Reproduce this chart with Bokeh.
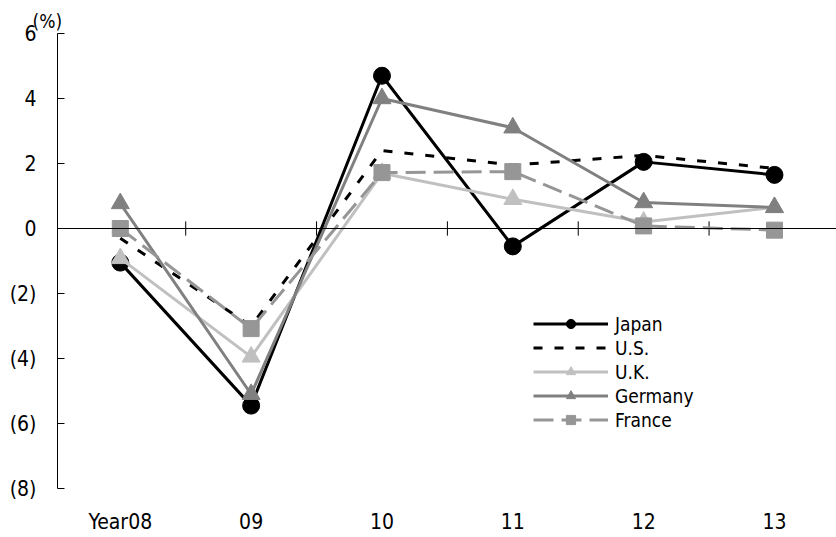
from bokeh.plotting import figure
from bokeh.models import Range1d, FixedTicker, Span, Legend, LegendItem, Title
from bokeh.embed import file_html
from bokeh.resources import INLINE

# ---- data ----
years = ["Year08", "09", "10", "11", "12", "13"]
japan = [-1.05, -5.45, 4.7, -0.55, 2.05, 1.65]
us = [-0.3, -3.0, 2.4, 1.95, 2.25, 1.85]
uk = [-0.92, -3.95, 1.7, 0.9, 0.2, 0.65]
germany = [0.77, -5.1, 4.0, 3.1, 0.8, 0.65]
france = [0.0, -3.08, 1.72, 1.75, 0.08, -0.05]
y_ticks = [-8, -6, -4, -2, 0, 2, 4, 6]
y_tick_labels = ["(8)", "(6)", "(4)", "(2)", "0", "2", "4", "6"]
unit_label = "(%)"

FONT = "DejaVu Sans Condensed"
xs = list(range(len(years)))

p = figure(width=836, height=537, output_backend="svg", toolbar_location=None,
           x_range=Range1d(-0.48, 5.474), y_range=Range1d(-8, 6),
           min_border_left=57, min_border_right=0, min_border_top=33, min_border_bottom=49)
p.outline_line_color = None
p.grid.grid_line_color = None
p.background_fill_color = "white"

# unit label above the y axis
p.add_layout(Title(text=unit_label, align="left", offset=-25, text_font=FONT,
                   text_font_size="19px", text_font_style="normal", text_color="black",
                   standoff=4), "above")

# y axis
p.yaxis.ticker = FixedTicker(ticks=y_ticks)
p.yaxis.major_label_overrides = {t: l for t, l in zip(y_ticks, y_tick_labels)}
p.yaxis.major_tick_in = 7
p.yaxis.major_tick_out = 0
p.yaxis.minor_tick_line_color = None
p.yaxis.axis_line_color = "black"
p.yaxis.major_tick_line_color = "black"
p.yaxis.major_label_text_font = FONT
p.yaxis.major_label_text_font_size = "21px"
p.yaxis.major_label_text_color = "black"
p.yaxis.major_label_standoff = 21

# x axis: labels only
p.xaxis.ticker = FixedTicker(ticks=xs)
p.xaxis.major_label_overrides = {i: y for i, y in zip(xs, years)}
p.xaxis.axis_line_color = None
p.xaxis.major_tick_line_color = None
p.xaxis.minor_tick_line_color = None
p.xaxis.major_tick_in = 0
p.xaxis.major_tick_out = 0
p.xaxis.major_label_text_font = FONT
p.xaxis.major_label_text_font_size = "21px"
p.xaxis.major_label_text_color = "black"
p.xaxis.major_label_standoff = 21

# zero line with crossing ticks at category boundaries
p.add_layout(Span(location=0, dimension="width", line_color="black", line_width=1))
bounds = [i + 0.5 for i in xs]
p.segment(x0=bounds, y0=[-0.22] * len(bounds), x1=bounds, y1=[0.22] * len(bounds),
          line_color="black", line_width=1)

items = []
# Japan
r1 = p.line(xs, japan, line_color="black", line_width=3)
m1 = p.scatter(xs, japan, marker="circle", size=17, fill_color="black", line_color="black")
items.append(LegendItem(label="Japan", renderers=[r1, m1]))
# U.S.
r2 = p.line(xs, us, line_color="black", line_width=3, line_dash="9 12")
items.append(LegendItem(label="U.S.", renderers=[r2]))
# U.K.
r3 = p.line(xs, uk, line_color="#C0C0C0", line_width=3)
m3 = p.scatter(xs, uk, marker="triangle", size=18, fill_color="#C0C0C0", line_color="#C0C0C0")
items.append(LegendItem(label="U.K.", renderers=[r3, m3]))
# Germany
r4 = p.line(xs, germany, line_color="#808080", line_width=3)
m4 = p.scatter(xs, germany, marker="triangle", size=18, fill_color="#808080", line_color="#808080")
items.append(LegendItem(label="Germany", renderers=[r4, m4]))
# France
r5 = p.line(xs, france, line_color="#969696", line_width=3, line_dash="20 8")
m5 = p.scatter(xs, france, marker="square", size=16, fill_color="#969696", line_color="#969696")
items.append(LegendItem(label="France", renderers=[r5, m5]))

legend = Legend(items=items, location=(476, 57), orientation="vertical",
                glyph_width=75, glyph_height=23, spacing=1, padding=0, margin=0,
                label_standoff=7, border_line_color=None, background_fill_alpha=0,
                label_text_font=FONT, label_text_font_size="19px", label_text_color="black")
p.add_layout(legend)

open("out.html", "w").write(file_html(p, INLINE))
